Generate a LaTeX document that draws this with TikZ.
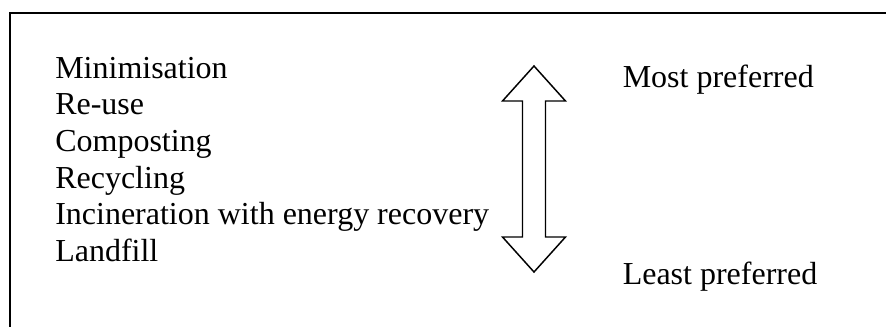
\documentclass[tikz,border=0pt]{standalone}
\usepackage{fontspec}
\setmainfont{Liberation Serif}
\begin{document}
\begin{tikzpicture}[x=0.75pt,y=-0.75pt,
  label/.style={anchor=base west,inner sep=0pt,font=\fontsize{24}{29}\selectfont},
  frameline/.style={line width=1.5pt},
  arrowline/.style={line width=1.1pt,line join=miter}]
\useasboundingbox (0,0) rectangle (886,327);
\clip (0,0) rectangle (886,327);
% open frame: only top and left edges fall inside the page
\draw[frameline] (9.5,340) -- (9.5,13.5) -- (900,13.5);
% hierarchy list
\node[label] (min) at (55,78.3) {Minimisation};
\node[label] (reuse) at (55,115) {Re-use};
\node[label] (comp) at (55,151.7) {Composting};
\node[label] (recy) at (55,188.3) {Recycling};
\node[label] (inc) at (55,225) {Incineration with energy recovery};
\node[label] (land) at (55,261.7) {Landfill};
% double-headed arrow
\draw[arrowline] (534,66) -- (565.5,101) -- (545.5,101) -- (545.5,237) -- (565.5,237)
  -- (534,272) -- (502.5,237) -- (522.5,237) -- (522.5,101) -- (502.5,101) -- cycle;
% scale ends
\node[label] (most) at (622.5,87.5) {Most preferred};
\node[label] (least) at (622.5,284.3) {Least preferred};
\end{tikzpicture}
\end{document}
